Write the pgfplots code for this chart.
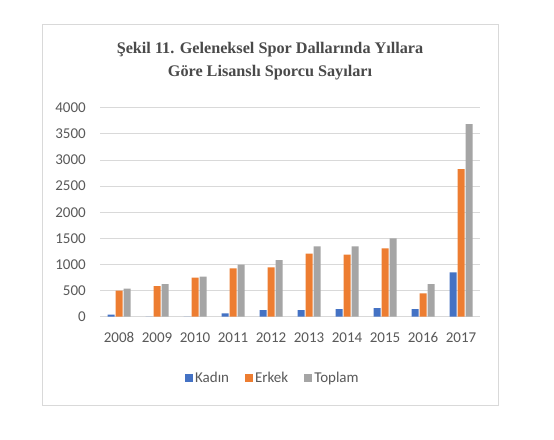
\documentclass[border=0pt]{standalone}
\usepackage{pgfplots}
\pgfplotsset{compat=1.18}
\usepackage{fontspec}
\setmainfont{Carlito}
\newfontfamily\titlefont{Liberation Serif}
\definecolor{cK}{HTML}{4472C4}
\definecolor{cE}{HTML}{ED7D31}
\definecolor{cT}{HTML}{A5A5A5}
\definecolor{cGrid}{HTML}{D9D9D9}
\definecolor{cText}{HTML}{595959}
\definecolor{cTitle}{HTML}{4A4A4A}
\begin{document}
\begin{tikzpicture}
\path[use as bounding box] (0pt,0pt) rectangle (554pt,-439pt);
\draw[cGrid, line width=1pt, fill=white] (42pt,-24pt) rectangle (498pt,-405pt);
\node[align=center, text=cTitle, font=\titlefont\bfseries\fontsize{16.2}{23}\selectfont] at (270pt,-61pt)
  {Şekil 11. Geleneksel Spor Dallarında Yıllara\\Göre Lisanslı Sporcu Sayıları};
\begin{axis}[
  at={(100pt,-316.7pt)}, anchor=south west,
  scale only axis, width=380pt, height=209pt,
  xmin=-0.5, xmax=9.5, ymin=0, ymax=4000,
  ytick={0,500,...,4000},
  xtick={0,...,9},
  xticklabels={2008,2009,2010,2011,2012,2013,2014,2015,2016,2017},
  /pgf/number format/assume math mode=true,
  /pgf/number format/1000 sep={},
  ymajorgrids,
  grid style={cGrid, line width=0.9pt},
  axis x line*=bottom, axis y line*=left,
  y axis line style={draw=none},
  x axis line style={cGrid, line width=0.9pt, -},
  major tick length=0pt,
  tick label style={text=cText, font=\fontsize{15}{18}\selectfont},
  yticklabel style={inner sep=0pt, anchor=east, xshift=-14pt},
  xticklabel style={inner sep=0pt, anchor=north, text height=10pt, text depth=0pt, yshift=-16pt},
  ybar=1pt, bar width=7pt,
  legend style={draw=none, at={(0.455,-0.293)}, anchor=center,
    legend columns=3, font=\fontsize{15}{18}\selectfont, text=cText,
    /tikz/every even column/.append style={column sep=14pt}},
  legend image code/.code={\fill[#1] (0pt,-4pt) rectangle (8pt,4pt);},
]
\addplot[fill=cK, draw=none] coordinates {(0,40) (1,0) (2,0) (3,64) (4,128) (5,128) (6,147) (7,166) (8,147) (9,849)};
\addplot[fill=cE, draw=none] coordinates {(0,498) (1,587) (2,746) (3,925) (4,944) (5,1206) (6,1187) (7,1308) (8,447) (9,2826)};
\addplot[fill=cT, draw=none] coordinates {(0,536) (1,625) (2,766) (3,995) (4,1085) (5,1346) (6,1346) (7,1499) (8,625) (9,3687)};
\legend{Kadın,Erkek,Toplam}
\end{axis}
\end{tikzpicture}
\end{document}
